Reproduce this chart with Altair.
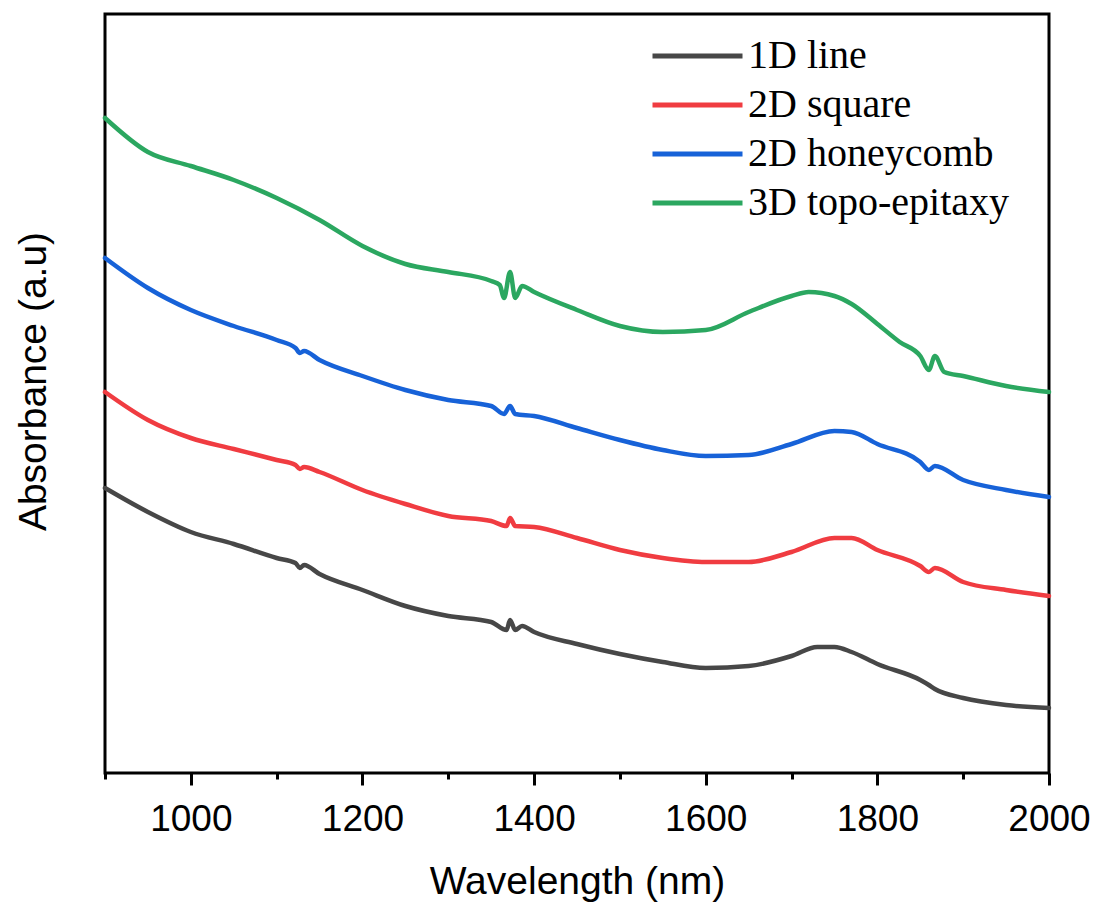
import altair as alt
import pandas as pd

series_names = ["1D line", "2D square", "2D honeycomb", "3D topo-epitaxy"]
series_colors = ["#474747", "#f03c41", "#1762d8", "#2ba760"]

wl_1d = [900, 950, 1000, 1050, 1100, 1122, 1127, 1132, 1150, 1200, 1250, 1300, 1350, 1368, 1372,
         1378, 1386, 1400, 1450, 1500, 1550, 1600, 1650, 1700, 1730, 1750, 1770, 1800, 1850, 1860,
         1867, 1900, 1950, 2000]
abs_1d = [2.85, 2.61, 2.41, 2.29, 2.15, 2.10, 2.05, 2.08, 1.99, 1.83, 1.67, 1.57, 1.51, 1.43, 1.53,
          1.43, 1.47, 1.41, 1.29, 1.19, 1.11, 1.05, 1.07, 1.17, 1.26, 1.26, 1.21, 1.09, 0.93, 0.88,
          0.84, 0.75, 0.68, 0.65]

wl_2ds = [900, 950, 1000, 1050, 1100, 1122, 1127, 1132, 1150, 1200, 1250, 1300, 1350, 1368, 1372,
          1378, 1400, 1450, 1500, 1550, 1600, 1650, 1700, 1750, 1770, 1800, 1850, 1860, 1867, 1900,
          1950, 2000]
abs_2ds = [3.81, 3.53, 3.35, 3.24, 3.13, 3.08, 3.04, 3.06, 3.01, 2.83, 2.69, 2.57, 2.52, 2.47, 2.55,
           2.47, 2.46, 2.35, 2.23, 2.15, 2.11, 2.11, 2.21, 2.35, 2.35, 2.23, 2.07, 2.01, 2.05, 1.91,
           1.83, 1.77]

wl_2dh = [900, 950, 1000, 1050, 1100, 1122, 1127, 1132, 1150, 1200, 1250, 1300, 1350, 1365, 1372,
          1378, 1400, 1450, 1500, 1550, 1600, 1650, 1700, 1750, 1770, 1800, 1850, 1860, 1867, 1900,
          1950, 2000]
abs_2dh = [5.15, 4.85, 4.63, 4.47, 4.33, 4.25, 4.20, 4.22, 4.13, 3.97, 3.83, 3.73, 3.67, 3.59, 3.67,
           3.59, 3.57, 3.45, 3.33, 3.23, 3.17, 3.18, 3.29, 3.42, 3.41, 3.29, 3.11, 3.03, 3.07, 2.93,
           2.83, 2.76]

wl_3d = [900, 950, 1000, 1050, 1100, 1150, 1200, 1250, 1300, 1350, 1360, 1365, 1372, 1378, 1386,
         1400, 1450, 1500, 1550, 1600, 1650, 1700, 1720, 1750, 1770, 1800, 1826, 1850, 1860, 1867,
         1878, 1900, 1950, 2000]
abs_3d = [6.55, 6.21, 6.07, 5.93, 5.75, 5.53, 5.27, 5.09, 5.01, 4.92, 4.88, 4.75, 5.01, 4.75, 4.87,
          4.81, 4.63, 4.47, 4.41, 4.43, 4.61, 4.77, 4.81, 4.77, 4.69, 4.49, 4.31, 4.17, 4.03, 4.17,
          4.01, 3.97, 3.87, 3.81]

tick_values = [900, 1000, 1100, 1200, 1300, 1400, 1500, 1600, 1700, 1800, 1900, 2000]

rows = []
for name, wls, vals in zip(series_names, [wl_1d, wl_2ds, wl_2dh, wl_3d],
                           [abs_1d, abs_2ds, abs_2dh, abs_3d]):
    for w, v in zip(wls, vals):
        rows.append({"Wavelength": w, "Absorbance": v, "Sample": name})
df = pd.DataFrame(rows)

x_scale = alt.Scale(domain=[900, 2000], nice=False, zero=False)
y_scale = alt.Scale(domain=[0, 7.59], nice=False, zero=False)

x_axis = alt.Axis(
    values=tick_values, format="d", title="Wavelength (nm)", grid=False, domain=False,
    tickSize={"condition": {"test": "datum.value % 200 === 0", "value": 12}, "value": 6},
    tickWidth=3, tickColor="black",
    labelExpr="datum.value % 200 === 0 ? datum.label : ''",
    labelFont="Liberation Sans", labelFontSize=37, labelColor="black", labelPadding=16,
    labelFlush=False, labelOverlap=False,
    titleFont="Liberation Sans", titleFontSize=39, titleFontWeight="normal", titleColor="black",
    titleX=472, titleY=120, titleBaseline="alphabetic", titleAlign="center")

chart = alt.Chart(df).mark_line(strokeWidth=4.5, strokeJoin="round", strokeCap="round",
                                interpolate="monotone").encode(
    x=alt.X("Wavelength:Q", scale=x_scale, axis=x_axis),
    y=alt.Y("Absorbance:Q", scale=y_scale, axis=alt.Axis(
        title="Absorbance (a.u)", labels=False, ticks=False, domain=False, grid=False,
        titleFont="Liberation Sans", titleFontSize=39, titleFontWeight="normal", titleColor="black",
        titleX=-60, titleY=367, titleAngle=270, titleBaseline="alphabetic", titleAlign="center")),
    color=alt.Color("Sample:N", scale=alt.Scale(domain=series_names, range=series_colors),
                    legend=alt.Legend(title=None, orient="none", legendX=545, legendY=27,
                                      symbolType="stroke", symbolSize=8100, symbolStrokeWidth=5,
                                      labelFont="Liberation Serif", labelFontSize=40,
                                      labelColor="black", labelOffset=3, labelLimit=500,
                                      clipHeight=30, rowPadding=9, padding=0)),
).properties(
    width=944, height=759,
    autosize=alt.AutoSizeParams(type="none"),
    padding={"left": 105, "top": 14, "right": 50, "bottom": 135},
    background="white",
).configure_view(stroke="black", strokeWidth=3)

chart.save("out.html", embed_options={"renderer": "svg", "actions": False})
